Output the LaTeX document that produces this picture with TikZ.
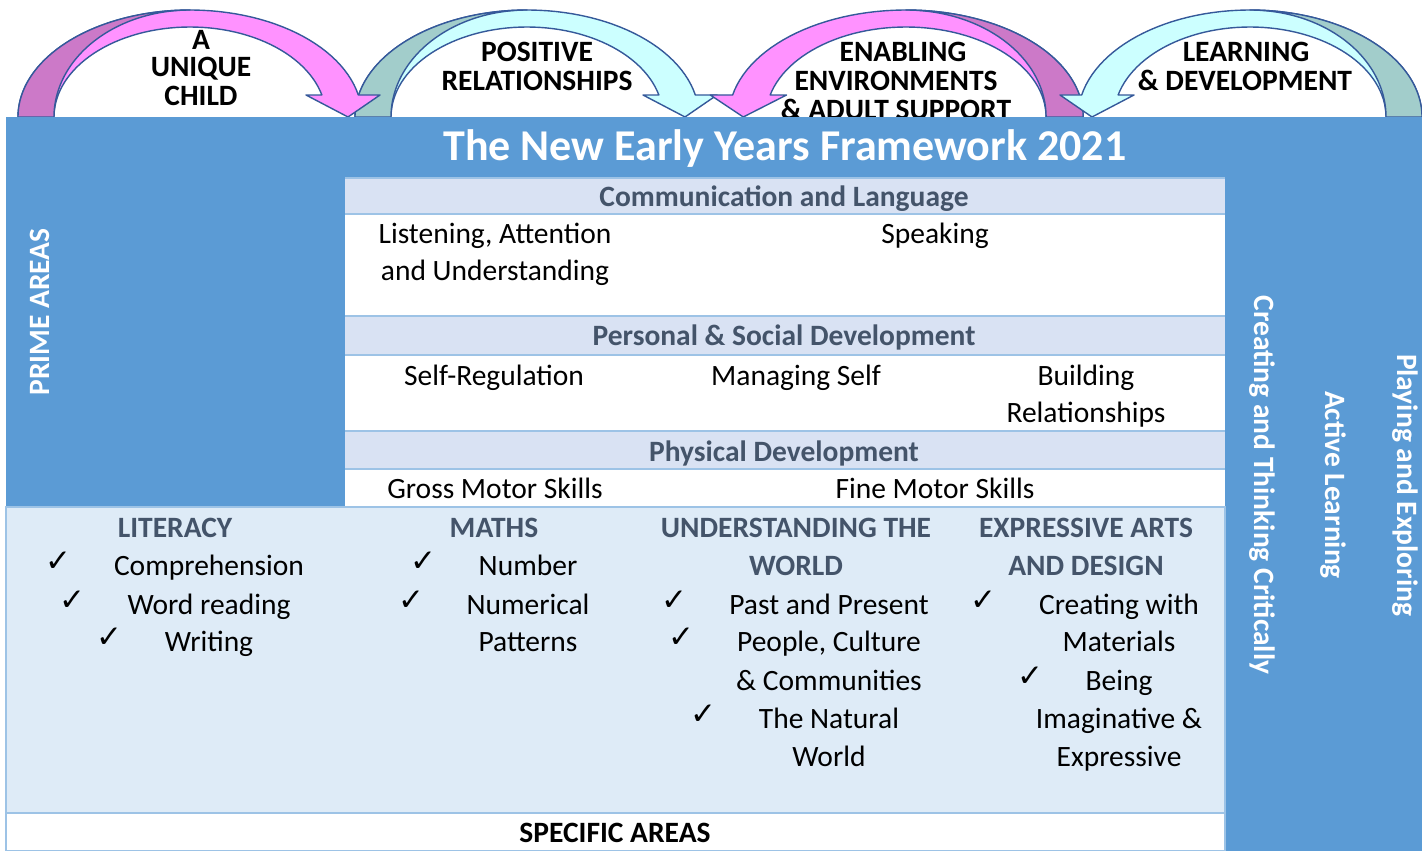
\documentclass[tikz,border=0pt]{standalone}
\usepackage{fontspec}
\setmainfont{Carlito}
\newfontfamily\tickfont{DejaVu Sans}
\usetikzlibrary{calc}

\definecolor{frameblue}{HTML}{5B9BD5}
\definecolor{headfill}{HTML}{D9E2F3}
\definecolor{specfill}{HTML}{DEEBF7}
\definecolor{rulecol}{HTML}{9DC3E6}
\definecolor{slate}{HTML}{44546A}
\definecolor{orchidback}{HTML}{CC79C8}
\definecolor{pinkfront}{HTML}{FF92FF}
\definecolor{sageback}{HTML}{A2CDCB}
\definecolor{cyanfront}{HTML}{CCFFFF}
\definecolor{arcedge}{HTML}{35599A}

\newcommand\basefont{\fontsize{29.5}{37}\selectfont}

\tikzset{
  txt/.style={inner sep=0pt, anchor=base, font=\basefont},
  head/.style={txt, font=\basefont\bfseries, text=slate},
  archead/.style={txt, font=\basefont\bfseries},
  vert/.style={inner sep=0pt, font=\basefont\bfseries, text=white},
  tick/.style={inner sep=0pt, anchor=center, font=\tickfont\fontsize{31}{31}\selectfont},
  rowline/.style={rulecol, line width=2pt},
  bandedge/.style={draw=arcedge, line width=1.4pt, line join=round},
}

% curved band arrow: #1 centre x, #2 horizontal scale (negative = arrow on the left),
% #3 shaded back colour, #4 front colour
\newcommand\curvedband[4]{%
  \begin{scope}[shift={(#1,117)}, xscale=#2, variable=\ang, samples=60]
    \path[fill=#4, bandedge] (-172,0)
      -- plot[domain=180:348.13] ({172*cos(\ang)},{107*sin(\ang)})
      -- (190,-22) -- (158,0) -- (116,-22)
      -- plot[domain=345.85:180] ({136*cos(\ang)},{90*sin(\ang)})
      -- cycle;
    \path[fill=#3, bandedge] (-172,0)
      -- plot[domain=180:270] ({172*cos(\ang)},{107*sin(\ang)})
      -- plot[domain=270:180] ({136*cos(\ang)},{107*sin(\ang)})
      -- cycle;
  \end{scope}}

\begin{document}
\begin{tikzpicture}[x=1pt,y=-1pt]
\useasboundingbox (0,0) rectangle (1422,851);

% guiding principles arcs
\curvedband{527}{1}{sageback}{cyanfront}
\curvedband{190}{1}{orchidback}{pinkfront}
\curvedband{906}{-1.03}{orchidback}{pinkfront}
\curvedband{1250}{-1}{sageback}{cyanfront}

\node[archead] (a1) at (201,49.5) {A};
\node[archead] (a2) at (201,76.5) {UNIQUE};
\node[archead] (a3) at (201,105.5) {CHILD};
\node[archead] (p1) at (537,61.5) {POSITIVE};
\node[archead] (p2) at (537,90.5) {RELATIONSHIPS};
\node[archead] (e1) at (903,61.5) {ENABLING};
\node[archead] (e2) at (896,90.5) {ENVIRONMENTS};
\node[archead] (e3) at (896,119.5) {\& ADULT SUPPORT};
\node[archead] (l1) at (1246,61.5) {LEARNING};
\node[archead] (l2) at (1245,90.5) {\& DEVELOPMENT};

% frame
\fill[frameblue] (6,117) rectangle (1422,851);
\node[txt, font=\fontsize{44}{50}\selectfont\bfseries, text=white] (title) at (785,160) {The New Early Years Framework 2021};

% prime areas table
\fill[headfill] (345,178) rectangle (1225,214);
\fill[white] (345,214) rectangle (1225,316);
\fill[headfill] (345,316) rectangle (1225,355);
\fill[white] (345,355) rectangle (1225,431);
\fill[headfill] (345,431) rectangle (1225,469);
\fill[white] (345,469) rectangle (1225,507);
\foreach \yy in {178,214,316,355,431,469} \draw[rowline] (345,\yy) -- (1225,\yy);

\node[head] (cl) at (784,206.5) {Communication and Language};
\node[txt] (la1) at (495,243.5) {Listening, Attention};
\node[txt] (la2) at (495,280.5) {and Understanding};
\node[txt] (spk) at (935,243.5) {Speaking};
\node[head] (psd) at (784,345.5) {Personal \& Social Development};
\node[txt] (sr) at (494,385.5) {Self-Regulation};
\node[txt] (ms) at (796,385.5) {Managing Self};
\node[txt] (br1) at (1086,385.5) {Building};
\node[txt] (br2) at (1086,422.5) {Relationships};
\node[head] (pd) at (784,461.5) {Physical Development};
\node[txt] (gm) at (495,498.5) {Gross Motor Skills};
\node[txt] (fm) at (935,498.5) {Fine Motor Skills};

% specific areas
\filldraw[fill=specfill, draw=rulecol, line width=2pt] (6,507) rectangle (1225,813);
\filldraw[fill=white, draw=rulecol, line width=2pt] (6,813) rectangle (1225,851);

\node[head] (lit) at (175,537.5) {LITERACY};
\node[txt] (lit1) at (209,575.5) {Comprehension};
\node[txt] (lit2) at (209,614.5) {Word reading};
\node[txt] (lit3) at (209,651.5) {Writing};

\node[head] (mat) at (494,537.5) {MATHS};
\node[txt] (mat1) at (528,575.5) {Number};
\node[txt] (mat2) at (528,614.5) {Numerical};
\node[txt] (mat3) at (528,651.5) {Patterns};

\node[head] (utw) at (796,537.5) {UNDERSTANDING THE};
\node[head] (utwb) at (796,575.5) {WORLD};
\node[txt] (utw1) at (829,614.5) {Past and Present};
\node[txt] (utw2) at (829,651.5) {People, Culture};
\node[txt] (utw3) at (829,690.5) {\& Communities};
\node[txt] (utw4) at (829,728.5) {The Natural};
\node[txt] (utw5) at (829,766.5) {World};

\node[head] (ead) at (1086,537.5) {EXPRESSIVE ARTS};
\node[head] (eadb) at (1086,575.5) {AND DESIGN};
\node[txt] (ead1) at (1119,614.5) {Creating with};
\node[txt] (ead2) at (1119,651.5) {Materials};
\node[txt] (ead3) at (1119,690.5) {Being};
\node[txt] (ead4) at (1119,728.5) {Imaginative \&};
\node[txt] (ead5) at (1119,766.5) {Expressive};

\foreach \item in {lit1,lit2,lit3,mat1,mat2,utw1,utw2,utw4,ead1,ead3}
  \node[tick] (tick-\item) at ($(\item.base west)+(-55,-14)$) {✓};

\node[txt, font=\basefont\bfseries] (spec) at (615,842.5) {SPECIFIC AREAS};

% side labels
\node[vert, rotate=90] (prime) at (40,312) {PRIME AREAS};
\node[vert, rotate=-90] (ctc) at (1262,485) {Creating and Thinking Critically};
\node[vert, rotate=-90] (al) at (1333,485) {Active Learning};
\node[vert, rotate=-90] (pe) at (1405,485) {Playing and Exploring};
\end{tikzpicture}
\end{document}
